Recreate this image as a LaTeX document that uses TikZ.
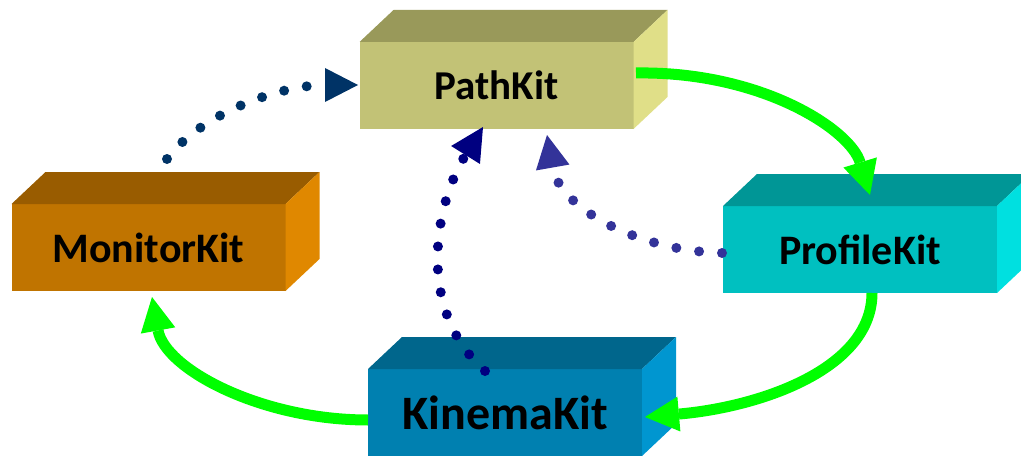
\documentclass[tikz,border=0pt]{standalone}
\usepackage{fontspec}
\setmainfont{Carlito}
\usetikzlibrary{arrows.meta,calc}

\definecolor{pathfront}{RGB}{194,194,118}
\definecolor{pathtop}{RGB}{153,153,90}
\definecolor{pathside}{RGB}{224,223,136}
\definecolor{monfront}{RGB}{192,116,0}
\definecolor{montop}{RGB}{153,92,0}
\definecolor{monside}{RGB}{224,136,0}
\definecolor{proffront}{RGB}{0,192,192}
\definecolor{proftop}{RGB}{0,150,150}
\definecolor{profside}{RGB}{0,224,224}
\definecolor{kinfront}{RGB}{0,128,176}
\definecolor{kintop}{RGB}{0,102,140}
\definecolor{kinside}{RGB}{0,150,208}
\definecolor{flowgreen}{RGB}{0,255,0}
\definecolor{dotnavy}{RGB}{0,51,102}
\definecolor{dotblue}{RGB}{0,0,128}
\definecolor{dotviolet}{RGB}{51,51,153}

% top and right faces of a kit block
\newcommand{\kitfaces}[3]{%
  \fill[#2] (#1.north west) -- ++(34,32) -- ($(#1.north east)+(34,32)$) -- (#1.north east) -- cycle;
  \fill[#3] (#1.north east) -- ++(34,32) -- ($(#1.south east)+(34,32)$) -- (#1.south east) -- cycle;
}
\newcommand{\kitsize}[1]{\bfseries\fontsize{#1}{#1}\selectfont}

\tikzset{
  kit/.style={rectangle, minimum width=274pt, minimum height=87pt, inner sep=0pt, outer sep=0pt},
  flow/.style={draw=flowgreen, line width=11pt, -{Triangle[length=34pt,width=35pt,line width=0pt]}},
  dots/.style={line width=10pt, line cap=round, dash pattern=on 0pt off 23pt, -{Triangle[length=33pt,width=34pt,line width=0pt]}},
}

\begin{document}
\begin{tikzpicture}[x=1pt,y=1pt]
\useasboundingbox (0,0) rectangle (1021,459);
\clip (0,0) rectangle (1021,459);

% blocks
\node[kit, fill=pathfront, font=\kitsize{41}] (PathKit) at (496.5,373.5) {PathKit};
\kitfaces{PathKit}{pathtop}{pathside}
\node[kit, fill=monfront, font=\kitsize{42}] (MonitorKit) at (148.5,211.5) {MonitorKit};
\kitfaces{MonitorKit}{montop}{monside}
\node[kit, fill=proffront, font=\kitsize{42}] (ProfileKit) at (860,209.5) {ProfileKit};
\kitfaces{ProfileKit}{proftop}{profside}
\node[kit, fill=kinfront, font=\kitsize{48}] (KinemaKit) at (505,46.5) {KinemaKit};
\kitfaces{KinemaKit}{kintop}{kinside}

% green flow
\draw[flow] ($(PathKit.east)+(2.5,12.5)$) .. controls +(124,2) and +(-20,66) .. ($(ProfileKit.north)+(10,11)$);
\draw[flow] ($(ProfileKit.south)+(12,0)$) .. controls +(0,-76) and +(115,10) .. ($(KinemaKit.east)+(3,-4.5)$);
\draw[flow] ($(KinemaKit.west)+(0,-7.5)$) .. controls +(-107,0) and +(13,-72) .. ($(MonitorKit.south)+(3.5,-6)$);

% dotted feedback
\draw[dots, dotnavy] ($(MonitorKit.north)+(18.5,45)$) .. controls +(33,45) and +(-78,0) .. ($(PathKit.west)+(-1.5,0.5)$);
\draw[dots, dotblue] ($(KinemaKit.north)+(-20,-2)$) .. controls +(-70,62) and +(-48,-77) .. ($(PathKit.south)+(-13.5,2)$);
\draw[dots, dotviolet] ($(ProfileKit.west)+(-1,-3.5)$) .. controls +(-82,2) and +(13,-74) .. ($(PathKit.south)+(50.5,-6)$);
\end{tikzpicture}
\end{document}
